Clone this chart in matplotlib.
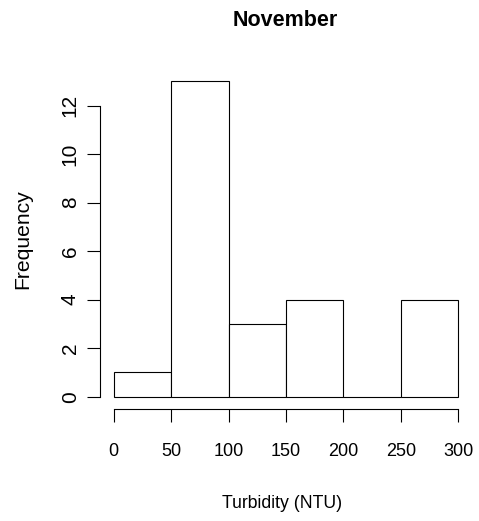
import matplotlib
matplotlib.use('Agg')
import matplotlib.pyplot as plt

plt.rcParams['font.family'] = ['Liberation Sans', 'DejaVu Sans']

bin_edges = [0, 50, 100, 150, 200, 250, 300]
counts = [1, 13, 3, 4, 0, 4]
x_ticks = [0, 50, 100, 150, 200, 250, 300]
y_ticks = [0, 2, 4, 6, 8, 10, 12]

fig = plt.figure(figsize=(4.79, 5.21), dpi=100)
ax = fig.add_axes([100/479, 1 - 409.3/521, 372/479, (409.3 - 68.8)/521])

ax.hist(bin_edges[:-1], bins=bin_edges, weights=counts,
        facecolor='white', edgecolor='black', linewidth=0.8)

ax.set_xlim(-12, 312)
ax.set_ylim(-0.52, 13.52)
ax.set_xticks(x_ticks)
ax.set_xticklabels([str(v) for v in x_ticks], fontsize=13)
ax.set_yticks(y_ticks)
ax.set_yticklabels([str(v) for v in y_ticks], rotation=90, va='center',
                   fontsize=15)

# R style axes: no box, axis lines only over the tick range
for s in ['top', 'right']:
    ax.spines[s].set_visible(False)
ax.spines['bottom'].set_bounds(0, 300)
ax.spines['left'].set_bounds(0, 12)
for s in ['bottom', 'left']:
    ax.spines[s].set_linewidth(0.8)
ax.tick_params(axis='both', length=9.5, width=0.8)
ax.tick_params(axis='x', pad=15)
ax.tick_params(axis='y', pad=5)

fig.text(285/479, 1 - 20/521, 'November', ha='center', va='center',
         fontsize=15.5, fontweight='bold')
fig.text(282/479, 1 - 503/521, 'Turbidity (NTU)', ha='center', va='center',
         fontsize=12.7)
fig.text(23/479, 1 - 239/521, 'Frequency', ha='center', va='center',
         fontsize=15.2, rotation=90)

fig.savefig('out.png', dpi=100)
